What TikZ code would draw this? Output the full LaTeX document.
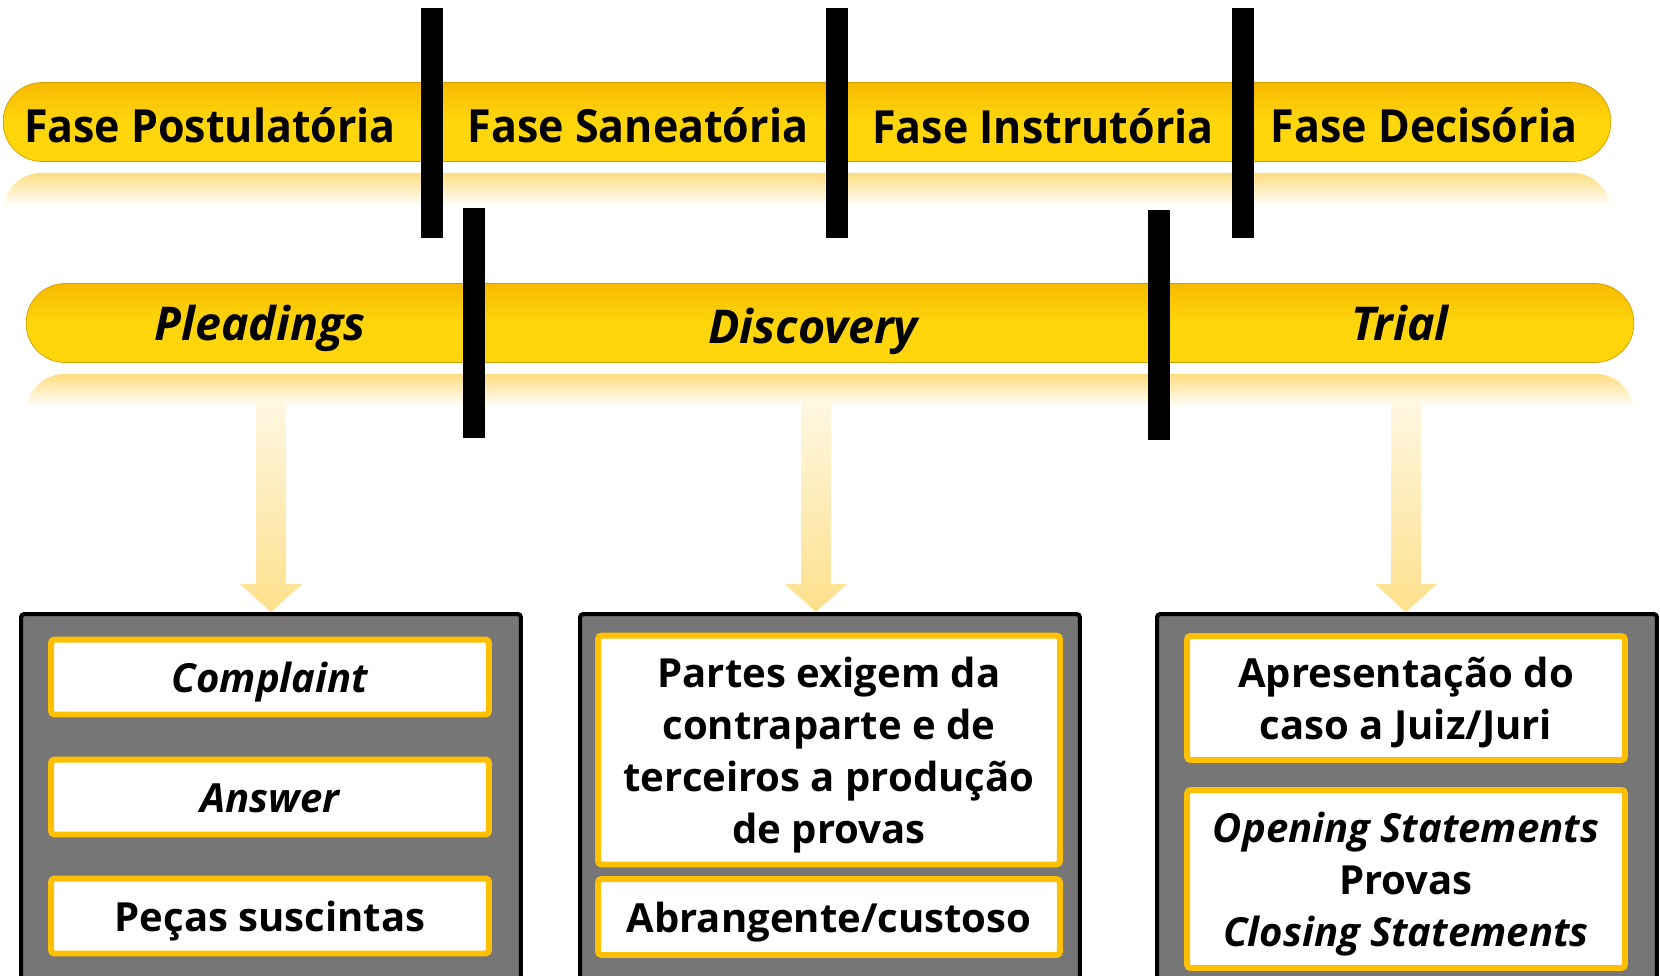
\documentclass[tikz,border=0pt]{standalone}
\usepackage{fontspec}
\setmainfont{Open Sans}
\newfontfamily\barfont[FakeStretch=0.94]{Open Sans}
\usetikzlibrary{calc}
\definecolor{barorange}{RGB}{246,186,0}
\definecolor{baryellow}{RGB}{255,214,12}
\definecolor{reflectyellow}{RGB}{253,220,128}
\definecolor{arrowgold}{RGB}{254,224,140}
\definecolor{boxgray}{RGB}{118,118,118}
\definecolor{frameorange}{RGB}{255,192,0}
\pgfdeclareverticalshading{reflectfade}{100bp}{color(0bp)=(white); color(25bp)=(white);
  color(54bp)=(white); color(75bp)=(reflectyellow); color(100bp)=(reflectyellow)}
\newcommand{\boxlines}[1]{\raisebox{-3pt}[\height][\depth]{\begin{tabular}{@{}c@{}}#1\end{tabular}}}
\tikzset{
  phasebar/.style={rectangle, rounded corners=0.78cm, minimum width=32.16cm,
    minimum height=1.58cm, inner sep=0pt, top color=barorange,
    bottom color=baryellow, middle color=baryellow, draw=barorange!85!black, line width=0.4pt},
  reflection/.style={shading=reflectfade, rounded corners=0.78cm},
  divider/.style={rectangle, fill=black, inner sep=0pt, minimum width=0.44cm, minimum height=4.6cm},
  phaselabel/.style={anchor=base, inner sep=0pt, font=\barfont\bfseries\fontsize{26}{30}\selectfont},
  englabel/.style={anchor=base, inner sep=0pt, font=\bfseries\itshape\fontsize{26.5}{30}\selectfont},
  graybox/.style={rectangle, fill=boxgray, draw=black, line width=2.3pt, rounded corners=2pt,
    minimum width=10cm, minimum height=7.7cm, inner sep=0pt},
  itembox/.style={rectangle, fill=white, draw=frameorange, line width=3.4pt, rounded corners=2pt,
    inner sep=0pt, font=\bfseries\fontsize{22.8}{29.5}\selectfont},
  flowarrow/.style={top color=arrowgold!25, bottom color=arrowgold}
}
\begin{document}
\begin{tikzpicture}[x=0.02cm, y=-0.02cm]
\useasboundingbox (0,0) rectangle (1660,975);
\clip (0,0) rectangle (1660,975);

% fases brasileiras
\node[phasebar] (civil) at (807,122) {};
\shade[reflection] ($(civil.south west)+(0,11)$) rectangle ($(civil.south east)+(0,90)$);
\node[phaselabel] (postul) at (210,142) {Fase Postulatória};
\node[phaselabel] (saneat) at (638,142) {Fase Saneatória};
\node[phaselabel] (instrut) at (1043,143) {Fase Instrutória};
\node[phaselabel] (decis) at (1424,142) {Fase Decisória};

% fases americanas
\node[phasebar] (common) at (830,323) {};
\shade[reflection] ($(common.south west)+(0,11)$) rectangle ($(common.south east)+(0,90)$);
\node[englabel] (pleadings) at (260,340) {Pleadings};
\node[englabel] (discovery) at (813,343) {Discovery};
\node[englabel] (trial) at (1400,340) {Trial};

\node[divider] (d1) at (432,123) {};
\node[divider] (d2) at (837,123) {};
\node[divider] (d3) at (1243,123) {};
\node[divider] (d4) at (474,323) {};
\node[divider] (d5) at (1159,325) {};

\node[graybox, anchor=south] (box1) at (271,1001) {};
\node[graybox, anchor=south] (box2) at (830,1001) {};
\node[graybox, anchor=south] (box3) at (1407,1001) {};

\coordinate (a1) at (271,400);
\coordinate (a2) at (816,400);
\coordinate (a3) at (1406,400);
\coordinate (t1) at (a1 |- box1.north);
\coordinate (t2) at (a2 |- box2.north);
\coordinate (t3) at (a3 |- box3.north);
\foreach \a/\t in {a1/t1, a2/t2, a3/t3}
  \shade[flowarrow] ($(\a)+(-15,0)$) -- ($(\t)+(-15,-28)$) -- ($(\t)+(-31,-28)$) -- (\t)
    -- ($(\t)+(31,-28)$) -- ($(\t)+(15,-28)$) -- ($(\a)+(15,0)$) -- cycle;
\node[graybox, anchor=south] at (box1.south) {};
\node[graybox, anchor=south] at (box2.south) {};
\node[graybox, anchor=south] at (box3.south) {};

\node[itembox, minimum width=8.76cm, minimum height=1.5cm] (complaint) at (270,677) {\boxlines{\itshape Complaint}};
\node[itembox, minimum width=8.76cm, minimum height=1.5cm] (answer) at (270,797) {\boxlines{\itshape Answer}};
\node[itembox, minimum width=8.76cm, minimum height=1.5cm] (pecas) at (270,916) {\boxlines{Peças suscintas}};

\node[itembox, minimum width=9.24cm, minimum height=4.58cm] (partes) at (829,750) {\boxlines{Partes exigem da\\contraparte e de\\terceiros a produção\\de provas}};
\node[itembox, minimum width=9.24cm, minimum height=1.52cm] (abrang) at (829,917) {\boxlines{Abrangente/custoso}};

\node[itembox, minimum width=8.76cm, minimum height=2.48cm] (apres) at (1406,698) {\boxlines{Apresentação do\\caso a Juiz/Juri}};
\node[itembox, minimum width=8.76cm, minimum height=3.56cm] (opening) at (1406,879) {\boxlines{\textit{Opening Statements}\\Provas\\\textit{Closing Statements}}};
\end{tikzpicture}
\end{document}
